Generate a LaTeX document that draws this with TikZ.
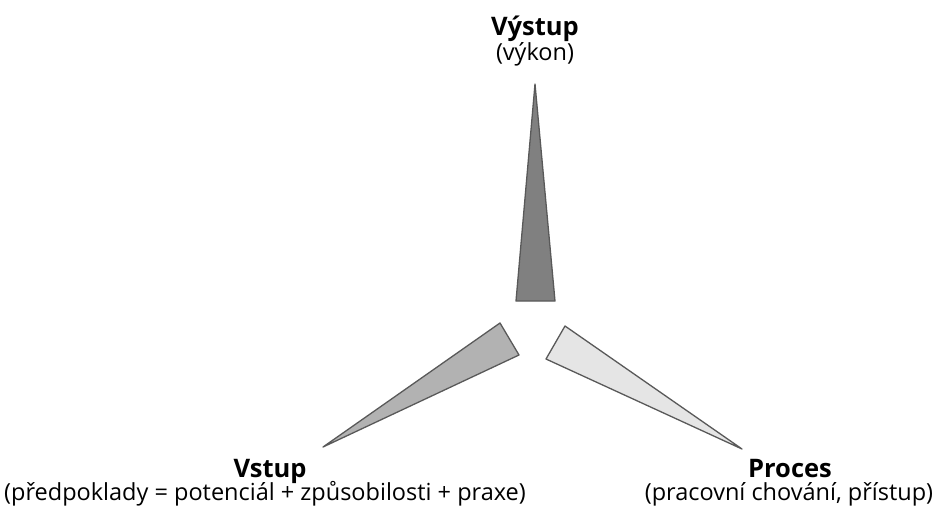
\documentclass[tikz,border=0pt]{standalone}
\usepackage{fontspec}
\setmainfont{Open Sans}

\begin{document}
\begin{tikzpicture}[
  x=1pt,
  y=-1pt,
  every node/.style={font=\fontsize{23.5}{26}\selectfont, inner sep=0pt},
  wedge/.style={
    draw=black!65,
    line width=1.3pt,
    line join=round,
    fill=#1
  },
  title/.style={font=\fontsize{25.5}{28}\selectfont\bfseries, anchor=base},
  note/.style={anchor=base}
]
\useasboundingbox (0,0) rectangle (934,509);

% the three wedges
\draw[wedge=black!50] (535,84) -- (555,301) -- (516,301) -- cycle;
\draw[wedge=black!30] (323,447) -- (500,323) -- (519,355) -- cycle;
\draw[wedge=black!10] (742,449) -- (565,326) -- (546,359) -- cycle;

% labels
\node[title] (outtitle) at (535,35) {Výstup};
\node[note] (outnote) at (535,60) {(výkon)};
\node[title] (intitle) at (270,477) {Vstup};
\node[note] (innote) at (265,500) {(předpoklady = potenciál + způsobilosti + praxe)};
\node[title] (proctitle) at (790,477) {Proces};
\node[note] (procnote) at (789,500) {(pracovní chování, přístup)};
\end{tikzpicture}
\end{document}
